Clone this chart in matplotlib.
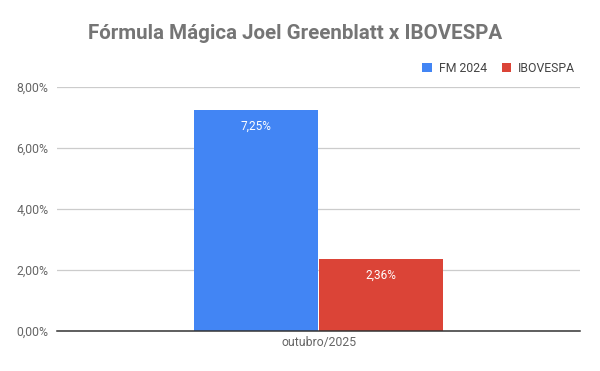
import matplotlib.pyplot as plt
import numpy as np

plt.rcParams['font.family'] = ['Roboto', 'DejaVu Sans']

categories = ['outubro/2025']
series_names = ['FM 2024', 'IBOVESPA']
fm_2024 = [7.25]
ibovespa = [2.36]
colors = ['#4285f4', '#db4437']
yticks = [0, 2, 4, 6, 8]


def pct(v):
    return ('%.2f%%' % v).replace('.', ',')


fig = plt.figure(figsize=(6, 3.71), dpi=100)
ax = fig.add_axes([0.095, 0.108, 0.872, 0.657])

x = np.arange(len(categories))
w = 0.237
off = 0.1195
b1 = ax.bar(x - off, fm_2024, w, color=colors[0], label=series_names[0], zorder=3)
b2 = ax.bar(x + off, ibovespa, w, color=colors[1], label=series_names[1], zorder=3)

for bars, vals in ((b1, fm_2024), (b2, ibovespa)):
    for r, v in zip(bars, vals):
        ax.annotate(pct(v), (r.get_x() + r.get_width() / 2, v), xytext=(0, -7),
                    textcoords='offset points', ha='center', va='top',
                    color='white', fontsize=8.5, zorder=4)

ax.set_xlim(-0.5, 0.5)
ax.set_ylim(0, 8)
ax.set_yticks(yticks)
ax.set_yticklabels([pct(v) for v in yticks])
ax.set_xticks(x)
ax.set_xticklabels(categories)
ax.tick_params(axis='both', length=0, colors='#666666', labelsize=8.8, pad=4)
ax.tick_params(axis='y', pad=6)
ax.grid(axis='y', color='#cccccc', lw=0.9, zorder=0)
for s in ['top', 'right', 'left']:
    ax.spines[s].set_visible(False)
ax.spines['bottom'].set_color('#333333')
ax.spines['bottom'].set_linewidth(1.1)
ax.spines['bottom'].set_zorder(5)

ax.legend(loc='lower right', bbox_to_anchor=(1.0, 1.03), ncol=2, frameon=False,
          handlelength=0.75, handleheight=0.75, handletextpad=0.6, columnspacing=1.2,
          fontsize=8.8, labelcolor='#444444', borderaxespad=0)

fig.text(0.492, 0.91, 'Fórmula Mágica Joel Greenblatt x IBOVESPA', ha='center', va='center',
         fontsize=14.8, fontweight='bold', color='#757575')

fig.savefig('out.png', dpi=100)
